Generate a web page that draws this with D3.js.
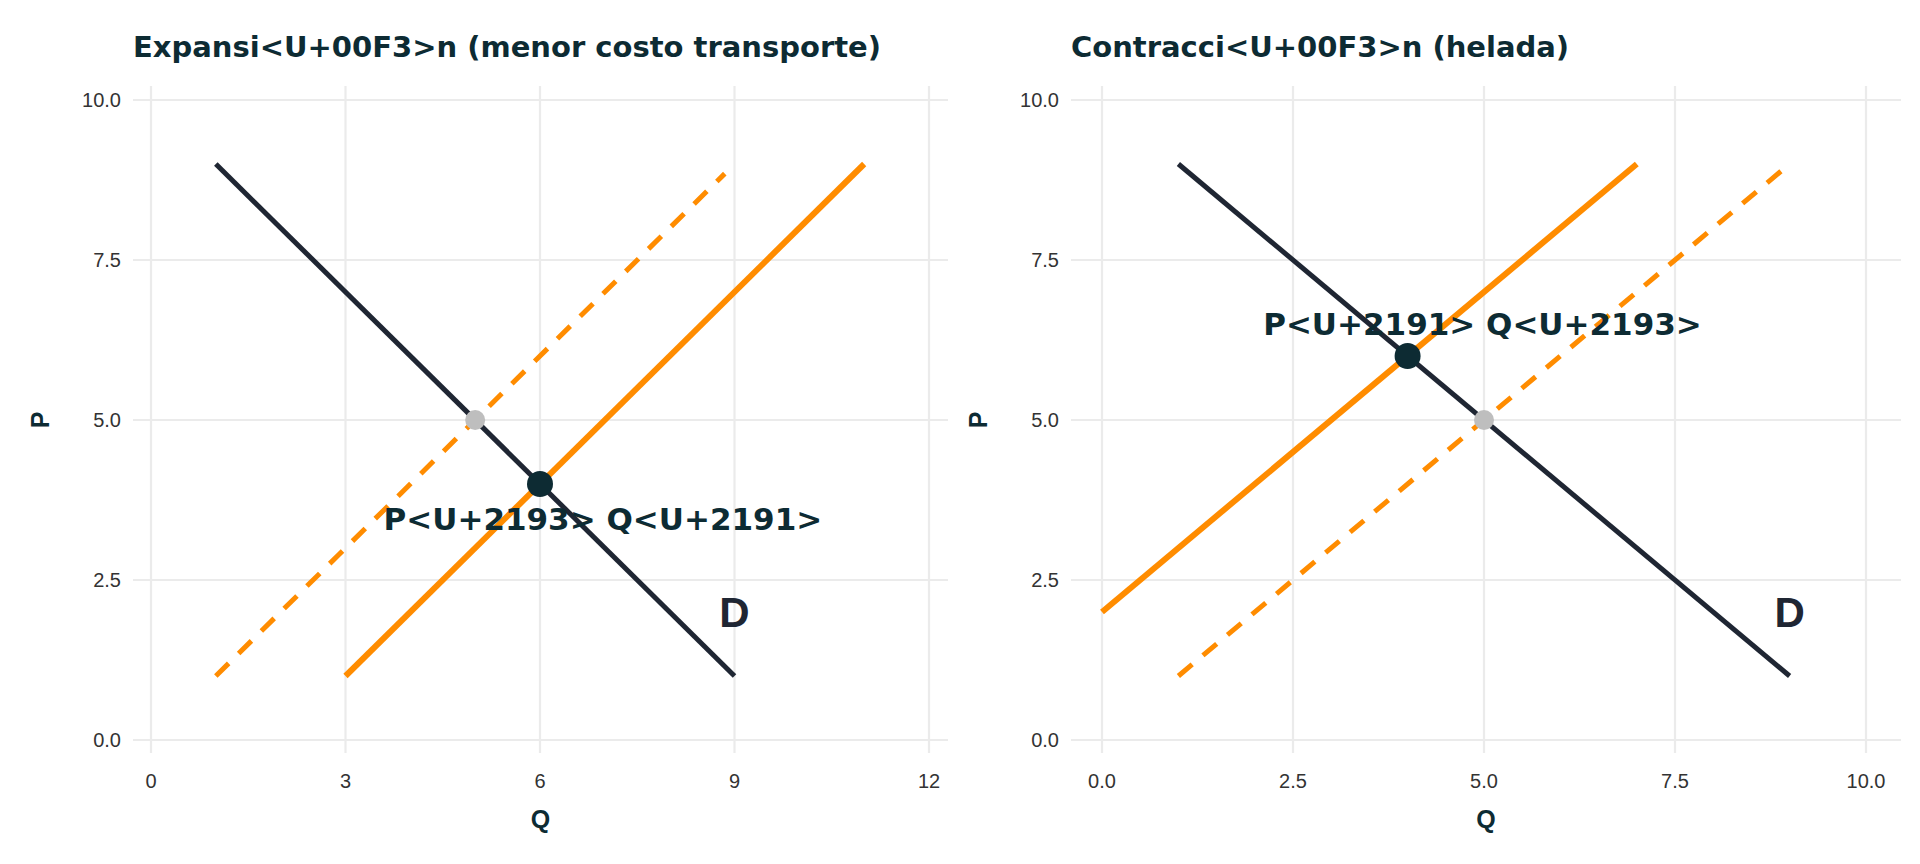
<!DOCTYPE html>
<html><head><meta charset="utf-8">
<script src="https://cdn.jsdelivr.net/npm/d3@7"></script>
<style>body{margin:0;background:#fff;font-family:"Liberation Sans",Arial,sans-serif}</style>
</head><body><div id="chart"></div>
<script>
// panel data
var titles = ["Expansi<U+00F3>n (menor costo transporte)", "Contracci<U+00F3>n (helada)"];
var xTicks = [[0, 3, 6, 9, 12], [0, 2.5, 5, 7.5, 10]];
var xDomains = [[0, 12], [0, 10]];
var yTicks = [0, 2.5, 5, 7.5, 10];
var demand = [[[1, 9], [9, 1]], [[1, 9], [9, 1]]];
var supplyNew = [[[3, 1], [11, 9]], [[0, 2], [7, 9]]];
var supplyOld = [[[1, 1], [8.85, 8.85]], [[1, 1], [9, 9]]];
var eqOld = [[5, 5], [5, 5]];
var eqNew = [[6, 4], [4, 6]];
var labels = [{x: 6.97, y: 3.45, t: "P<U+2193> Q<U+2191>"}, {x: 4.98, y: 6.5, t: "P<U+2191> Q<U+2193>"}];
var dLabel = [[9, 2], [9, 2]];

var svg = d3.select("#chart").append("svg").attr("width", 1920).attr("height", 864);

var panels = [
  {gx0: 133, gx1: 948, x0: 151, x1: 929, fmt: d3.format("d")},
  {gx0: 1071, gx1: 1901, x0: 1102, x1: 1866, fmt: d3.format(".1f")}
];
var y = d3.scaleLinear().domain([0, 10]).range([740, 100]);
var gy0 = 753, gy1 = 86;
var bold = "'DejaVu Sans', sans-serif";

panels.forEach(function(p, i) {
  var x = d3.scaleLinear().domain(xDomains[i]).range([p.x0, p.x1]);
  var g = svg.append("g");
  // grid
  g.selectAll(".gx").data(xTicks[i]).enter().append("line")
    .attr("x1", d => x(d)).attr("x2", d => x(d)).attr("y1", gy0).attr("y2", gy1)
    .attr("stroke", "#ebebeb").attr("stroke-width", 2.2);
  g.selectAll(".gy").data(yTicks).enter().append("line")
    .attr("y1", d => y(d)).attr("y2", d => y(d)).attr("x1", p.gx0).attr("x2", p.gx1)
    .attr("stroke", "#ebebeb").attr("stroke-width", 2.2);
  // tick labels
  g.selectAll(".tx").data(xTicks[i]).enter().append("text")
    .attr("x", d => x(d)).attr("y", 788).attr("text-anchor", "middle")
    .attr("font-size", 20).attr("fill", "#333").text(d => p.fmt(d));
  g.selectAll(".ty").data(yTicks).enter().append("text")
    .attr("x", p.gx0 - 12).attr("y", d => y(d) + 7).attr("text-anchor", "end")
    .attr("font-size", 20).attr("fill", "#333").text(d => d3.format(".1f")(d));
  // axis titles
  g.append("text").attr("x", (p.gx0 + p.gx1) / 2).attr("y", 828).attr("text-anchor", "middle")
    .attr("font-size", 25).attr("font-weight", "bold").attr("fill", "#0d2b33").text("Q");
  g.append("text").attr("transform", "translate(" + (p.gx0 - 84) + "," + y(5) + ") rotate(-90)")
    .attr("text-anchor", "middle").attr("font-size", 25).attr("font-weight", "bold")
    .attr("fill", "#0d2b33").text("P");
  g.append("text").attr("x", p.gx0).attr("y", 57).attr("font-size", 29).attr("font-weight", "bold")
    .attr("font-family", bold).attr("fill", "#0d2b33").text(titles[i]);

  var line = d3.line().x(d => x(d[0])).y(d => y(d[1]));
  g.append("path").attr("d", line(supplyOld[i])).attr("fill", "none")
    .attr("stroke", "#ff8c00").attr("stroke-width", 5).attr("stroke-dasharray", "18,14");
  g.append("path").attr("d", line(demand[i])).attr("fill", "none")
    .attr("stroke", "#1f2633").attr("stroke-width", 5);
  g.append("path").attr("d", line(supplyNew[i])).attr("fill", "none")
    .attr("stroke", "#ff8c00").attr("stroke-width", 6);
  g.append("circle").attr("cx", x(eqOld[i][0])).attr("cy", y(eqOld[i][1])).attr("r", 10).attr("fill", "#bebebe");
  g.append("circle").attr("cx", x(eqNew[i][0])).attr("cy", y(eqNew[i][1])).attr("r", 13).attr("fill", "#0d2b33");
  g.append("text").attr("x", x(labels[i].x)).attr("y", y(labels[i].y) + 11).attr("text-anchor", "middle")
    .attr("font-size", 31).attr("font-weight", "bold").attr("font-family", bold)
    .attr("fill", "#0d2b33").text(labels[i].t);
  g.append("text").attr("x", x(dLabel[i][0])).attr("y", y(dLabel[i][1]) + 15).attr("text-anchor", "middle")
    .attr("font-size", 42).attr("font-weight", "bold").attr("fill", "#1f2633").text("D");
});
</script></body></html>
